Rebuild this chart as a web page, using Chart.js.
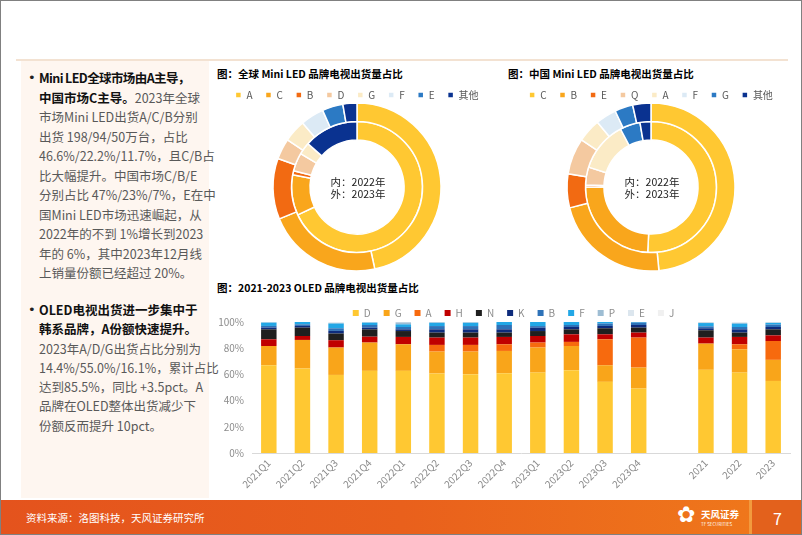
<!DOCTYPE html>
<html>
<head>
<meta charset="utf-8">
<script src="https://cdn.jsdelivr.net/npm/chart.js@4"></script>
<style>
  html,body{margin:0;padding:0;background:#fff;}
  #slide{position:relative;width:802px;height:535px;overflow:hidden;background:#fff;border:1px solid #808080;box-sizing:border-box;font-family:"Noto Sans CJK SC","Noto Sans",sans-serif;}
  .abs{position:absolute;}
  #topline{left:15px;top:58px;width:772px;height:2px;background:#F3E2D2;}
  #leftpanel{left:20px;top:60px;width:188px;height:437px;background:#FEF6F0;}
  .para{position:absolute;left:38px;font-size:12.5px;color:#595959;white-space:nowrap;}
  .para b{color:#111;font-weight:700;}
  .bullet{position:absolute;left:27px;font-size:13px;color:#222;font-family:"DejaVu Sans",sans-serif;}
  .title{position:absolute;font-size:10.5px;font-weight:700;color:#000;white-space:nowrap;}
  canvas{position:absolute;}
  #footer{left:0;top:499px;width:802px;height:36px;background:linear-gradient(90deg,#E4531D 0%,#E9601C 50%,#F07A1B 100%);}
  #src{left:25px;top:509px;font-size:10.5px;color:#fff;white-space:nowrap;}
  #pgblock{left:751px;top:499px;width:51px;height:36px;background:#E3611C;}
  #pgstrip{left:748px;top:499px;width:5px;height:36px;background:#F29A3E;}
  #pg{left:772px;top:505px;font-size:16px;color:#fff;}
  #logo{left:676px;top:501px;font-size:22px;color:#fff;font-family:"DejaVu Sans",sans-serif;}
  #logotext{left:700px;top:506px;font-size:9.5px;color:#fff;white-space:nowrap;font-weight:700;}
  #logosub{left:700px;top:520px;font-size:4.5px;color:#fff;white-space:nowrap;}
</style>
</head>
<body>
<div id="slide">
  <div id="topline" class="abs"></div>
  <div id="leftpanel" class="abs"></div>

  <div class="bullet" style="top:67px;line-height:19.5px;">•</div>
  <div class="para" style="top:67px;line-height:19.5px;">
    <b style="letter-spacing:-0.6px;">Mini LED全球市场由A主导，</b><br>
    <b>中国市场C主导。</b>2023年全球<br>
    市场Mini LED出货A/C/B分别<br>
    出货 198/94/50万台，占比<br>
    46.6%/22.2%/11.7%，且C/B占<br>
    比大幅提升。中国市场C/B/E<br>
    分别占比 47%/23%/7%，E在中<br>
    国Mini LED市场迅速崛起，从<br>
    2022年的不到 1%增长到2023<br>
    年的 6%，其中2023年12月线<br>
    上销量份额已经超过 20%。
  </div>

  <div class="bullet" style="top:299px;line-height:19.3px;">•</div>
  <div class="para" style="top:299px;line-height:19.3px;">
    <b>OLED电视出货进一步集中于</b><br>
    <b>韩系品牌，A份额快速提升。</b><br>
    2023年A/D/G出货占比分别为<br>
    14.4%/55.0%/16.1%，累计占比<br>
    达到85.5%，同比 +3.5pct。A<br>
    品牌在OLED整体出货减少下<br>
    份额反而提升 10pct。
  </div>

  <div class="title" style="left:216px;top:65px;">图：全球 Mini LED 品牌电视出货量占比</div>
  <div class="title" style="left:507px;top:65px;">图：中国 Mini LED 品牌电视出货量占比</div>
  <div class="title" style="left:216px;top:279px;">图：2021-2023 OLED 品牌电视出货量占比</div>

  <canvas id="cGlobal" width="280" height="194" style="left:216px;top:76px;width:280px;height:194px;"></canvas>
  <canvas id="cChina" width="280" height="194" style="left:510px;top:76px;width:280px;height:194px;"></canvas>
  <canvas id="cOled" width="598" height="203" style="left:200px;top:294px;width:598px;height:203px;"></canvas>

  <div id="footer" class="abs"></div>
  <div id="pgstrip" class="abs"></div>
  <div id="pgblock" class="abs"></div>
  <div id="src" class="abs">资料来源：洛图科技，天风证券研究所</div>
  <div id="logo" class="abs">✿</div>
  <div id="logotext" class="abs">天风证券</div>
  <div id="logosub" class="abs">TF SECURITIES</div>
  <div id="pg" class="abs">7</div>
</div>

<script>
// ---------- Data ----------
const globalLabels = ['A', 'C', 'B', 'D', 'G', 'F', 'E', '其他'];
const global2023 = [46.6, 22.2, 11.7, 4.0, 4.3, 4.5, 4.0, 2.7];
const global2022 = [68.0, 10.0, 1.0, 4.5, 3.0, 0, 0, 13.5];

const chinaLabels = ['C', 'B', 'E', 'Q', 'A', 'F', 'G', '其他'];
const china2023 = [48.5, 22.5, 6.5, 7.0, 4.5, 4.0, 3.5, 3.5];
const china2022 = [50.8, 24.2, 0.5, 4.4, 12.4, 0, 5.0, 2.7];

const oledCategories = ['2021Q1','2021Q2','2021Q3','2021Q4','2022Q1','2022Q2','2022Q3','2022Q4','2023Q1','2023Q2','2023Q3','2023Q4','','2021','2022','2023'];
const oledD = [67.0, 64.5, 59.6, 62.7, 62.7, 60.7, 60.2, 60.9, 61.4, 63.2, 54.3, 49.2, null, 63.5, 61.4, 55.0];
const oledG = [14.7, 21.8, 20.9, 21.6, 20.3, 16.7, 17.2, 17.0, 19.1, 18.5, 12.7, 16.0, null, 20.0, 17.8, 16.1];
const oledA = [0, 0, 0, 0, 0, 5.1, 5.1, 5.1, 3.8, 3.1, 19.8, 22.9, null, 0, 3.8, 14.4];
const oledH = [5.1, 3.0, 5.6, 4.5, 5.6, 5.6, 5.6, 5.6, 5.0, 5.8, 3.8, 3.8, null, 4.6, 5.6, 4.3];
const oledN = [7.6, 6.4, 5.1, 5.6, 4.5, 3.8, 3.8, 3.3, 3.8, 3.8, 4.6, 3.8, null, 5.6, 3.3, 4.6];
const oledK = [1.3, 1.3, 2.0, 1.3, 1.3, 2.5, 2.5, 2.5, 2.5, 1.8, 1.8, 2.0, null, 1.5, 2.5, 1.8];
const oledB = [1.3, 1.2, 2.0, 2.0, 1.8, 2.5, 2.5, 3.3, 1.3, 1.5, 1.8, 1.8, null, 1.5, 1.8, 1.8];
const oledF = [2.5, 1.8, 3.6, 1.8, 2.0, 2.5, 2.5, 2.3, 3.1, 2.3, 1.2, 0.5, null, 2.5, 2.5, 1.3];
const oledP = [0.3, 0, 0.5, 0.3, 1.5, 0.4, 0.4, 0, 0, 0, 0, 0, null, 0.4, 0.6, 0.3];
const oledE = [0.2, 0, 0.4, 0.2, 0.3, 0.2, 0.2, 0, 0, 0, 0, 0, null, 0.2, 0.4, 0.2];
const oledJ = [0, 0, 0.3, 0, 0, 0, 0, 0, 0, 0, 0, 0, null, 0.2, 0.3, 0.2];
const yTickLabels = ['0%','10%','20%','30%','40%','50%','60%','70%','80%','90%','100%'];

// ---------- Styles ----------
const FONT = '"Noto Sans CJK SC","Noto Sans",sans-serif';
const donutColors = ['#FFC832', '#F9A61C', '#F26A12', '#F4C9A0', '#FBEBC6', '#DCEAF5', '#2C7AC4', '#0A3290'];

const centerText = {
  id: 'centerText',
  afterDraw(chart) {
    const meta = chart.getDatasetMeta(0);
    if (!meta.data.length) return;
    const {x, y} = meta.data[0];
    const ctx = chart.ctx;
    ctx.save();
    ctx.font = '10.5px ' + FONT;
    ctx.fillStyle = '#222';
    ctx.textAlign = 'center';
    ctx.textBaseline = 'middle';
    ctx.fillText('内：2022年', x + 1, y - 5);
    ctx.fillText('外：2023年', x + 1, y + 7);
    ctx.restore();
  }
};

function donut(id, labels, outer, inner) {
  new Chart(document.getElementById(id), {
    type: 'doughnut',
    data: {
      labels: labels,
      datasets: [
        {label: '2023', data: outer, backgroundColor: donutColors, borderColor: '#fff', borderWidth: 1.5, hoverOffset: 0},
        {label: '2022', data: inner, backgroundColor: donutColors, borderColor: '#fff', borderWidth: 1.5, hoverOffset: 0}
      ]
    },
    options: {
      responsive: false,
      animation: false,
      cutout: '56%',
      radius: 84,
      layout: {padding: 0},
      plugins: {
        legend: {
          position: 'top',
          maxHeight: 26,
          labels: {boxWidth: 6, boxHeight: 6, padding: 13, color: '#595959', font: {size: 10, family: FONT}}
        },
        tooltip: {enabled: false}
      }
    },
    plugins: [centerText]
  });
}
donut('cGlobal', globalLabels, global2023, global2022);
donut('cChina', chinaLabels, china2023, china2022);

const oledSeries = [
  ['D', oledD, '#FFC832'],
  ['G', oledG, '#F9A51A'],
  ['A', oledA, '#F76A0E'],
  ['H', oledH, '#C00000'],
  ['N', oledN, '#1F1F1F'],
  ['K', oledK, '#0E2C7C'],
  ['B', oledB, '#2E72B8'],
  ['F', oledF, '#22A7E6'],
  ['P', oledP, '#9EBDD3'],
  ['E', oledE, '#DCE6EE'],
  ['J', oledJ, '#F0F0F0']
];

// shift the legend so that it is centred over the plot area, as in the source
const legendShift = {
  id: 'legendShift',
  afterLayout(chart) {
    const lg = chart.legend;
    if (lg) { lg.left += 18; lg.right += 18; }
  }
};

new Chart(document.getElementById('cOled'), {
  type: 'bar',
  data: {
    labels: oledCategories,
    datasets: oledSeries.map(([name, vals, color]) => ({
      label: name, data: vals, backgroundColor: color, borderWidth: 0,
      barPercentage: 0.46, categoryPercentage: 1.0
    }))
  },
  options: {
    responsive: false,
    animation: false,
    layout: {padding: {left: 0, right: 9, top: 0, bottom: 0}},
    plugins: {
      legend: {
        position: 'top',
        maxHeight: 27,
        labels: {boxWidth: 6, boxHeight: 6, padding: 13, color: '#8c8c8c', font: {size: 10, family: FONT}}
      },
      tooltip: {enabled: false}
    },
    scales: {
      x: {
        stacked: true,
        grid: {display: false, drawTicks: false},
        border: {display: true, color: '#D9D9D9', width: 1},
        ticks: {autoSkip: false, minRotation: 45, maxRotation: 45, padding: 4, color: '#8c8c8c', font: {size: 10, family: FONT}},
        afterFit(s) { s.height = 45; }
      },
      y: {
        stacked: true,
        min: 0, max: 100,
        grid: {display: false, drawTicks: false},
        border: {display: false},
        ticks: {stepSize: 10, padding: 8, color: '#8c8c8c', font: {size: 10, family: FONT},
          callback: (v) => yTickLabels[Math.round(v / 10)]},
        afterFit(s) { s.width = 51; }
      }
    }
  },
  plugins: [legendShift]
});
</script>
</body>
</html>
